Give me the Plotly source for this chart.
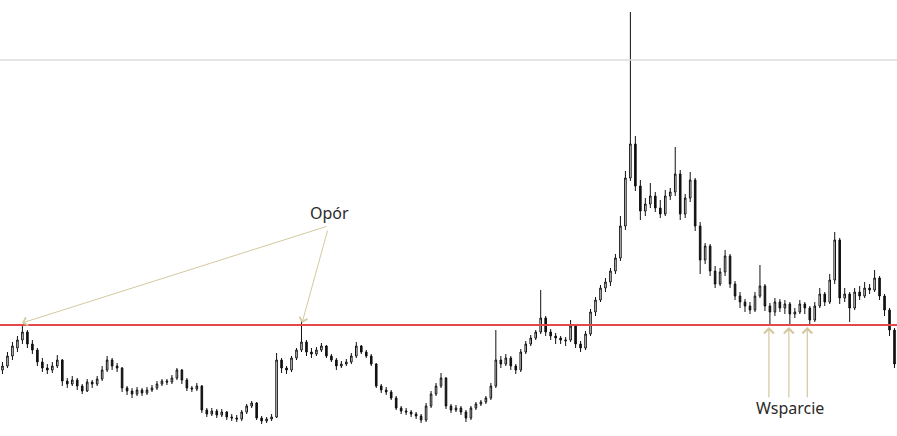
import plotly.graph_objects as go

opens = [66,70,80,88,96,104,92,86,74,68,66,70,76,55,52,56,50,45,54,52,
         57,66,76,70,68,48,45,42,46,43,46,48,52,55,54,58,66,56,48,47,
         50,26,22,25,21,24,19,18,17,24,30,33,18,15,17,19,76,68,66,78,
         86,94,84,82,86,90,80,76,70,72,74,80,90,84,80,72,50,46,44,38,
         28,25,24,22,20,16,30,42,50,58,30,26,28,24,18,28,32,34,38,50,
         76,72,78,70,66,84,92,98,104,118,104,100,98,95,96,110,92,88,102,124,
         136,148,154,165,178,210,258,292,250,225,232,240,228,222,240,244,262,222,238,256,
         210,176,190,165,152,164,180,152,140,134,130,126,140,150,130,124,134,128,132,122,
         124,132,128,116,130,142,134,156,196,138,142,128,144,140,148,146,158,140,126,106]
highs = [74,84,94,100,111,106,96,88,78,72,74,81,77,58,60,58,52,57,56,60,
         70,80,78,73,69,50,48,49,48,49,51,55,57,57,61,68,67,58,50,53,
         51,28,28,27,27,25,22,21,26,32,35,34,20,19,22,83,78,70,80,88,
         116,96,88,89,93,91,82,78,75,77,83,94,91,86,82,73,52,49,46,40,
         30,28,26,24,22,33,45,53,63,59,32,31,30,26,30,34,36,40,53,106,
         80,82,80,72,87,95,101,106,146,120,107,103,100,99,116,112,95,105,127,139,
         151,158,168,182,220,265,424,300,256,238,253,244,236,246,248,289,266,242,264,258,
         214,193,192,170,168,186,182,155,144,137,134,144,171,152,133,138,137,136,134,128,
         136,134,130,134,148,144,162,204,198,148,144,148,150,154,152,166,160,142,128,108]
lows = [62,68,76,84,92,88,82,70,64,62,63,68,50,48,50,46,42,44,48,50,
        55,64,66,64,44,41,38,40,40,41,44,46,50,51,52,56,52,45,44,45,
        23,19,20,18,19,16,15,14,15,22,28,16,12,13,15,18,63,62,64,76,
        84,80,78,80,84,78,74,66,68,70,72,78,82,78,70,48,43,41,36,26,
        22,21,19,17,13,14,28,40,48,27,23,24,21,14,16,26,30,32,36,48,
        68,70,66,62,64,82,90,96,102,100,96,92,92,90,94,88,84,86,100,120,
        134,144,150,162,175,206,255,245,216,220,228,224,218,220,236,240,216,218,234,205,
        162,172,160,148,150,160,148,136,128,124,122,124,138,125,112,120,124,122,112,118,
        122,122,111,114,128,130,132,152,132,134,114,126,136,138,142,144,136,120,100,68]
closes = [70,80,90,96,104,92,86,74,68,66,70,76,55,52,56,50,45,54,52,57,
          66,76,70,68,48,45,42,46,43,46,48,52,55,54,58,66,56,48,47,50,
          26,22,25,21,24,19,18,17,24,30,33,18,15,17,19,76,68,66,78,86,
          94,84,82,86,90,80,76,70,72,74,80,90,84,80,72,50,46,44,38,28,
          25,24,22,20,16,30,42,50,58,30,26,28,24,18,28,32,34,38,50,76,
          72,78,70,66,84,92,98,104,118,104,100,98,96,96,110,92,88,102,124,136,
          148,154,165,178,210,258,292,250,225,232,240,228,222,240,244,262,222,238,256,210,
          176,190,165,152,164,180,152,140,134,130,126,140,150,130,124,134,128,132,122,124,
          132,128,116,130,142,134,156,196,138,142,128,144,140,148,146,158,140,126,106,72]

resistance_level = 111
upper_level = 376
resistance_idx = [3.9, 60.1]
support_idx = [153.8, 157.8, 161.5]
label_opor = "Opór"
label_wsparcie = "Wsparcie"

n = len(closes)
x = list(range(n))

fig = go.Figure()
fig.add_trace(go.Candlestick(
    x=x, open=opens, high=highs, low=lows, close=closes,
    increasing=dict(line=dict(color="#111111", width=1), fillcolor="#ffffff"),
    decreasing=dict(line=dict(color="#111111", width=1), fillcolor="#111111"),
    whiskerwidth=0, showlegend=False, hoverinfo="skip",
))

fig.add_shape(type="line", xref="paper", x0=0, x1=1, yref="y",
              y0=upper_level, y1=upper_level,
              line=dict(color="#dcdcdc", width=1.5))
fig.add_shape(type="line", xref="paper", x0=0, x1=1, yref="y",
              y0=resistance_level, y1=resistance_level,
              line=dict(color="#e5484b", width=2))

arrow_col = "#d3c99f"
annotations = []
tails = [(306, -97), (26, -94)]
for xi, (ax, ay) in zip(resistance_idx, tails):
    annotations.append(dict(x=xi, y=resistance_level + 2, xref="x", yref="y",
                            ax=ax, ay=ay, text="", showarrow=True,
                            arrowhead=4, arrowsize=1.6, arrowwidth=1,
                            arrowcolor=arrow_col))
for xi in support_idx:
    annotations.append(dict(x=xi, y=resistance_level - 2, xref="x", yref="y",
                            ax=0, ay=72, text="", showarrow=True,
                            arrowhead=4, arrowsize=1.6, arrowwidth=1.2,
                            arrowcolor=arrow_col))
annotations.append(dict(x=65.7, y=223, xref="x", yref="y", text=label_opor,
                        showarrow=False,
                        font=dict(family="Noto Sans", size=16, color="#2a2a2a")))
annotations.append(dict(x=158.0, y=28, xref="x", yref="y", text=label_wsparcie,
                        showarrow=False,
                        font=dict(family="Noto Sans", size=16, color="#2a2a2a")))

fig.update_layout(
    width=897, height=436,
    margin=dict(l=0, r=0, t=0, b=0),
    paper_bgcolor="white", plot_bgcolor="white",
    annotations=annotations,
    boxgap=0.55,
    xaxis=dict(range=[-0.5, n - 0.5], visible=False, rangeslider=dict(visible=False),
               showgrid=False, zeroline=False),
    yaxis=dict(range=[0, 436], visible=False, showgrid=False, zeroline=False),
)

fig.write_html("out.html", config={"displayModeBar": False},
               post_script="document.body.style.margin='0px';document.body.style.overflow='hidden';")
